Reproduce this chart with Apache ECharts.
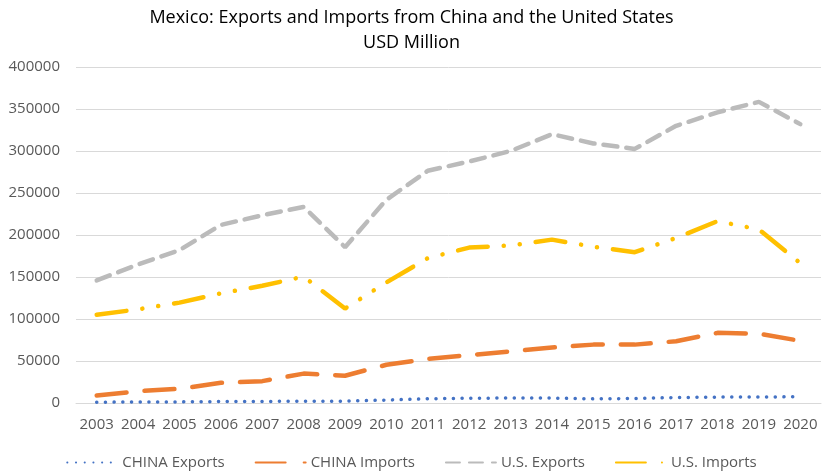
<!DOCTYPE html>
<html>
<head>
<meta charset="utf-8">
<script src="https://cdn.jsdelivr.net/npm/echarts@6/dist/echarts.min.js"></script>
<style>
  html, body { margin: 0; padding: 0; background: #fff; }
  #main { width: 823px; height: 475px; }
</style>
</head>
<body>
<div id="main"></div>
<script>
// years on the x axis
var years = ['2003', '2004', '2005', '2006', '2007', '2008', '2009', '2010', '2011',
  '2012', '2013', '2014', '2015', '2016', '2017', '2018', '2019', '2020'];

// USD million
var chinaExports = [1000, 1100, 1300, 1700, 1900, 2000, 2200, 3500, 5000,
  5700, 5900, 5900, 4900, 5400, 6500, 7000, 7000, 7500];
var chinaImports = [9000, 14000, 17000, 24000, 26000, 35000, 32500, 45500, 52500,
  57000, 61500, 66000, 69500, 69500, 73500, 83500, 82500, 74000];
var usExports = [146000, 165000, 182000, 212000, 223500, 233500, 185500, 242000, 276500,
  287500, 300000, 320000, 309000, 302500, 330000, 346000, 358500, 332000];
var usImports = [105000, 111500, 119500, 130500, 139500, 150500, 112500, 143500, 172500,
  185000, 187500, 194500, 186000, 179500, 196500, 216500, 206500, 166500];

var font = '"Open Sans", "Liberation Sans", sans-serif';

var chart = echarts.init(document.getElementById('main'), null, { renderer: 'canvas' });

var option = {
  backgroundColor: '#ffffff',
  animation: false,
  title: {
    text: 'Mexico: Exports and Imports from China and the United States\nUSD Million',
    left: 'center',
    top: 0,
    textStyle: {
      fontFamily: font,
      fontSize: 18,
      fontWeight: 'normal',
      color: '#000000',
      lineHeight: 25
    }
  },
  legend: {
    bottom: 0,
    left: 'center',
    itemWidth: 50,
    itemHeight: 10,
    itemGap: 30,
    itemStyle: { opacity: 0 },
    textStyle: { fontFamily: font, fontSize: 15, color: '#595959' },
    data: ['CHINA Exports', 'CHINA Imports', 'U.S. Exports', 'U.S. Imports']
  },
  grid: {
    left: 76,
    right: 2,
    top: 67,
    bottom: 72,
    containLabel: false
  },
  xAxis: {
    type: 'category',
    boundaryGap: true,
    data: years,
    axisLine: { lineStyle: { color: '#D9D9D9', width: 1 } },
    axisTick: { show: false },
    axisLabel: { fontFamily: font, fontSize: 15, color: '#595959', margin: 14, interval: 0 }
  },
  yAxis: {
    type: 'value',
    min: 0,
    max: 400000,
    interval: 50000,
    axisLine: { show: false },
    axisTick: { show: false },
    splitLine: { lineStyle: { color: '#D9D9D9', width: 1 } },
    axisLabel: {
      fontFamily: font, fontSize: 15, color: '#595959', margin: 16,
      formatter: function (v) { return String(v); }
    }
  },
  series: [
    {
      name: 'CHINA Exports',
      type: 'line',
      data: chinaExports,
      symbol: 'none',
      color: '#4472C4',
      lineStyle: { width: 3.5, type: [0.1, 8.6], cap: 'round', color: '#4472C4' }
    },
    {
      name: 'CHINA Imports',
      type: 'line',
      data: chinaImports,
      symbol: 'none',
      color: '#ED7D31',
      lineStyle: { width: 4.5, type: [30, 18], cap: 'round', color: '#ED7D31' }
    },
    {
      name: 'U.S. Exports',
      type: 'line',
      data: usExports,
      symbol: 'none',
      color: '#BBBBBB',
      lineStyle: { width: 4.5, type: [14, 9], cap: 'round', color: '#BBBBBB' }
    },
    {
      name: 'U.S. Imports',
      type: 'line',
      data: usImports,
      symbol: 'none',
      color: '#FFC000',
      lineStyle: { width: 4.5, type: [30, 16, 0.1, 16, 0.1, 16], cap: 'round', color: '#FFC000' }
    }
  ]
};

chart.setOption(option);
</script>
</body>
</html>
